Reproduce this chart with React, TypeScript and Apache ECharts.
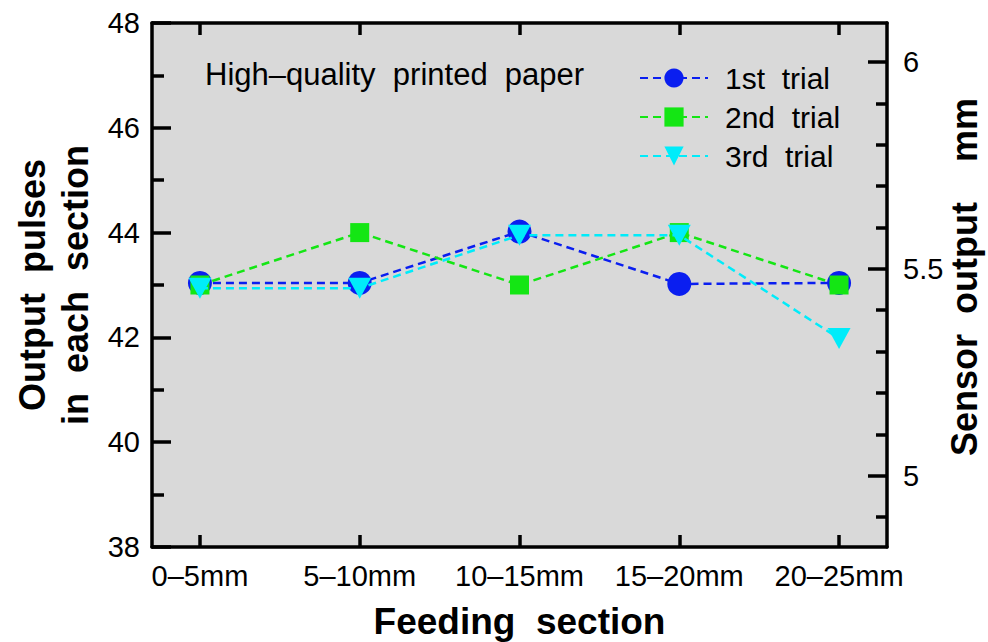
import React, { useEffect, useRef } from "react";
import * as echarts from "echarts";

const categories = ["0–5mm", "5–10mm", "10–15mm", "15–20mm", "20–25mm"];
const trial1 = [43.04, 43.04, 44.02, 43.02, 43.04];
const trial2 = [43.0, 44.0, 43.0, 44.0, 43.0];
const trial3 = [42.94, 42.94, 43.95, 43.95, 41.98];
const leftTicks = [38, 40, 42, 44, 46, 48];
const rightMajor = [5, 5.5, 6];
const rightMinor = [4.9, 5.1, 5.2, 5.3, 5.4, 5.6, 5.7, 5.8, 5.9];
const seriesNames = ["1st  trial", "2nd  trial", "3rd  trial"];
const rightTitle = "Sensor  output    mm";

const FONT = "Liberation Sans, Arial, Helvetica, sans-serif";
const G = { left: 152, top: 23, width: 735, height: 524 };

export default function App() {
  const ref = useRef<HTMLDivElement>(null);
  useEffect(() => {
    if (!ref.current) return;
    const chart = echarts.init(ref.current, null, { renderer: "svg" });
    const idx = categories.map((_, i) => i);
    const toPairs = (arr: number[]) => arr.map((v, i) => [idx[i], v]);
    const lineW = 2.5;
    const dash = [8, 5];
    const axisLine = { show: true, onZero: false, lineStyle: { color: "#000", width: 3.5 } };
    const tickStyle = { color: "#000", width: 3.5 };
    const option: any = {
      animation: false,
      backgroundColor: "#ffffff",
      textStyle: { fontFamily: FONT },
      grid: { ...G, show: false, containLabel: false, outerBoundsMode: "none" },
      legend: {
        orient: "vertical",
        left: 634,
        top: 58,
        itemWidth: 68,
        itemHeight: 24,
        itemGap: 9,
        textStyle: { fontSize: 30, color: "#000", fontFamily: FONT, padding: [0, 0, 0, 12] },
        data: seriesNames,
      },
      xAxis: [
        {
          type: "value",
          position: "bottom",
          min: -0.3,
          max: 4.3,
          splitLine: { show: false },
          axisLine,
          axisTick: { show: true, inside: true, length: 12, lineStyle: tickStyle, customValues: idx },
          axisLabel: {
            show: true,
            fontSize: 29,
            color: "#000",
            margin: 14,
            customValues: idx,
            formatter: (v: number) => categories[Math.round(v)] ?? "",
          },
          name: "Feeding  section",
          nameLocation: "middle",
          nameGap: 56,
          nameTextStyle: { fontSize: 37, fontWeight: "bold", color: "#000", fontFamily: FONT },
        },
        {
          type: "value",
          position: "top",
          min: -0.3,
          max: 4.3,
          splitLine: { show: false },
          axisLine,
          axisTick: { show: true, inside: true, length: 12, lineStyle: tickStyle, customValues: idx },
          axisLabel: { show: false },
        },
      ],
      yAxis: [
        {
          type: "value",
          position: "left",
          min: leftTicks[0],
          max: leftTicks[leftTicks.length - 1],
          interval: 2,
          splitLine: { show: false },
          axisLine,
          axisTick: { show: true, inside: true, length: 19, lineStyle: tickStyle },
          minorTick: { show: true, splitNumber: 2, length: 12, lineStyle: tickStyle },
          axisLabel: { fontSize: 29, color: "#000", margin: 12 },
          name: "Output  pulses\nin  each  section",
          nameLocation: "middle",
          nameRotate: 90,
          nameGap: 54,
          nameTextStyle: { fontSize: 36, fontWeight: "bold", color: "#000", lineHeight: 43, fontFamily: FONT },
        },
        {
          type: "value",
          position: "right",
          min: 4.8278,
          max: 6.0942,
          splitLine: { show: false },
          axisLine,
          axisTick: { show: true, inside: true, length: 19, lineStyle: tickStyle, customValues: rightMajor },
          axisLabel: {
            fontSize: 29,
            color: "#000",
            margin: 16,
            customValues: rightMajor,
            formatter: (v: number) => String(v),
          },
        },
        {
          type: "value",
          position: "right",
          min: 4.8278,
          max: 6.0942,
          splitLine: { show: false },
          axisLine: { show: false, onZero: false },
          axisTick: { show: true, inside: true, length: 11, lineStyle: tickStyle, customValues: rightMinor },
          axisLabel: { show: false },
        },
      ],
      graphic: [
        {
          type: "rect",
          z: -100,
          silent: true,
          shape: { x: G.left, y: G.top, width: G.width, height: G.height },
          style: { fill: "#d9d9d9" },
        },
        {
          type: "text",
          left: 205,
          top: 59,
          style: { text: "High–quality  printed  paper", fontSize: 31, fill: "#000", fontFamily: FONT },
        },
        {
          type: "text",
          x: 964,
          y: 277,
          rotation: Math.PI / 2,
          style: {
            text: rightTitle,
            fontSize: 36,
            fontWeight: "bold",
            fill: "#000",
            fontFamily: FONT,
            align: "center",
            verticalAlign: "middle",
          },
        },
      ],
      series: [
        {
          name: seriesNames[0],
          type: "line",
          data: toPairs(trial1),
          symbol: "circle",
          symbolSize: 24,
          itemStyle: { color: "#0a1ef0" },
          lineStyle: { color: "#0a1ef0", width: lineW, type: dash },
          z: 2,
        },
        {
          name: seriesNames[1],
          type: "line",
          data: toPairs(trial2),
          symbol: "rect",
          symbolSize: 19,
          itemStyle: { color: "#14e614" },
          lineStyle: { color: "#14e614", width: lineW, type: dash },
          z: 3,
        },
        {
          name: seriesNames[2],
          type: "line",
          data: toPairs(trial3),
          symbol: "triangle",
          symbolRotate: 180,
          symbolSize: [23, 21],
          itemStyle: { color: "#00ecfa" },
          lineStyle: { color: "#00ecfa", width: lineW, type: dash },
          z: 4,
        },
      ],
    };
    chart.setOption(option);
    return () => chart.dispose();
  }, []);
  return (
    <div
      ref={ref}
      style={{ position: "fixed", left: 0, top: 0, width: 988, height: 642 }}
    />
  );
}
